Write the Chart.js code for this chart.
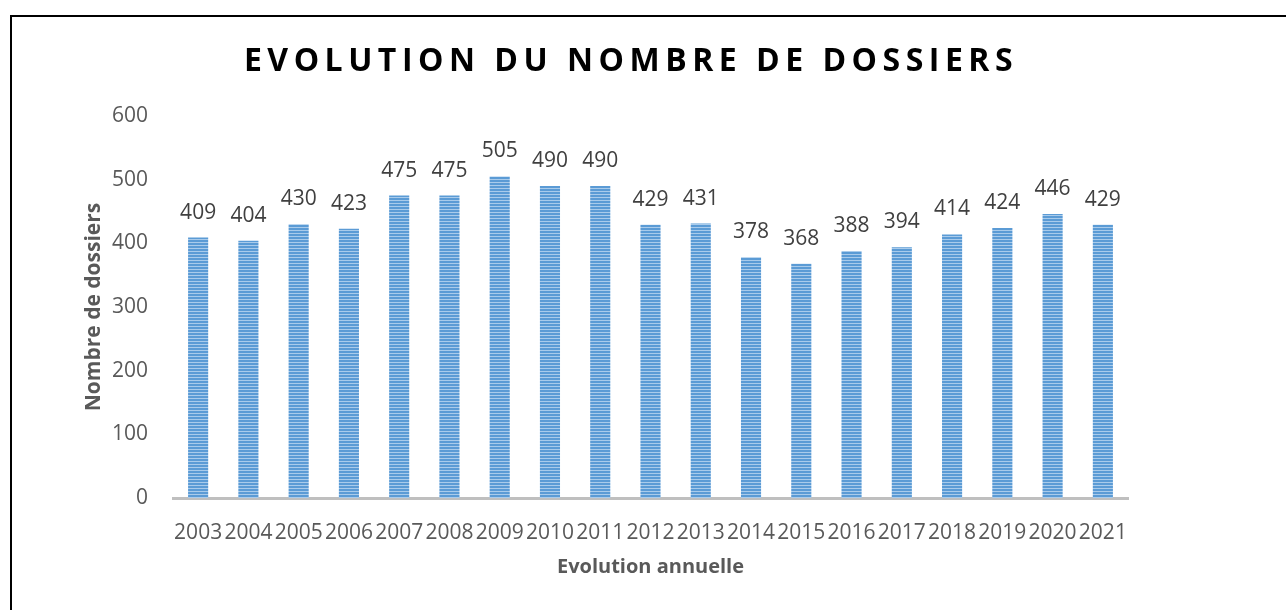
<!DOCTYPE html>
<html>
<head>
<meta charset="utf-8">
<script src="https://cdn.jsdelivr.net/npm/chart.js@4.4.0/dist/chart.umd.min.js"></script>
<style>
  html, body { margin: 0; padding: 0; background: #fff; }
  #wrap { position: relative; width: 1286px; height: 610px; overflow: hidden; }
  #frame { position: absolute; left: 10px; top: 15px; width: 1300px; height: 620px;
           border-top: 2px solid #000; border-left: 2px solid #000; box-sizing: border-box; pointer-events: none; }
  canvas { position: absolute; left: 0; top: 0; }
</style>
</head>
<body>
<div id="wrap">
  <canvas id="c" width="1286" height="610"></canvas>
  <div id="frame"></div>
</div>
<script>
const categories = ["2003","2004","2005","2006","2007","2008","2009","2010","2011","2012","2013","2014","2015","2016","2017","2018","2019","2020","2021"];
const values = [409,404,430,423,475,475,505,490,490,429,431,378,368,388,394,414,424,446,429];
const yTicks = [0,100,200,300,400,500,600];
const titleText = "EVOLUTION DU NOMBRE DE DOSSIERS";
const yTitle = "Nombre de dossiers";
const xTitle = "Evolution annuelle";

const FONT = "'Open Sans', sans-serif";

function makePattern(ctx) {
  const p = document.createElement('canvas');
  p.width = 4; p.height = 3;
  const g = p.getContext('2d');
  g.fillStyle = '#5B9BD5'; g.fillRect(0, 0, 4, 2);
  g.fillStyle = '#A9CBEB'; g.fillRect(0, 2, 4, 1);
  return ctx.createPattern(p, 'repeat');
}

const ctx = document.getElementById('c').getContext('2d');

const titlePlugin = {
  id: 'spacedTitle',
  afterDraw(chart) {
    const c = chart.ctx;
    c.save();
    c.font = "bold 32px " + FONT;
    c.fillStyle = '#000';
    c.textAlign = 'center';
    c.textBaseline = 'middle';
    c.letterSpacing = '5.5px';
    c.fillText(titleText, 631, 62);
    c.restore();
  }
};

const labelPlugin = {
  id: 'valueLabels',
  afterDatasetsDraw(chart) {
    const c = chart.ctx;
    const meta = chart.getDatasetMeta(0);
    c.save();
    c.font = "21px " + FONT;
    c.fillStyle = '#404040';
    c.textAlign = 'center';
    c.textBaseline = 'middle';
    meta.data.forEach((bar, i) => {
      c.fillText(String(values[i]), bar.x, bar.y - 25);
    });
    c.restore();
  }
};

new Chart(ctx, {
  type: 'bar',
  data: {
    labels: categories,
    datasets: [{
      data: values,
      backgroundColor: makePattern(ctx),
      borderWidth: 0,
      categoryPercentage: 1,
      barPercentage: 0.4
    }]
  },
  options: {
    responsive: false,
    animation: false,
    events: [],
    layout: { padding: { left: 0, right: 158, top: 116, bottom: 29 } },
    plugins: { legend: { display: false }, tooltip: { enabled: false }, title: { display: false } },
    scales: {
      x: {
        afterFit(scale) { scale.height = 83; },
        grid: { display: false, drawTicks: false },
        border: { display: true, color: '#BFBFBF', width: 3 },
        ticks: { color: '#595959', font: { family: FONT, size: 21 }, padding: 22, maxRotation: 0, autoSkip: false },
        title: { display: true, text: xTitle, color: '#595959', font: { family: FONT, size: 20, weight: 'bold' }, padding: { top: 4, bottom: 2 } }
      },
      y: {
        min: 0, max: 600,
        afterBuildTicks(scale) { scale.ticks = yTicks.map(v => ({ value: v })); },
        afterFit(scale) { scale.width = 173; },
        grid: { display: false, drawTicks: false },
        border: { display: false },
        ticks: { color: '#595959', font: { family: FONT, size: 21 }, padding: 25 },
        title: { display: true, text: yTitle, color: '#595959', font: { family: FONT, size: 21, weight: 'bold' }, padding: { top: 81, bottom: 0 } }
      }
    }
  },
  plugins: [titlePlugin, labelPlugin]
});
</script>
</body>
</html>
